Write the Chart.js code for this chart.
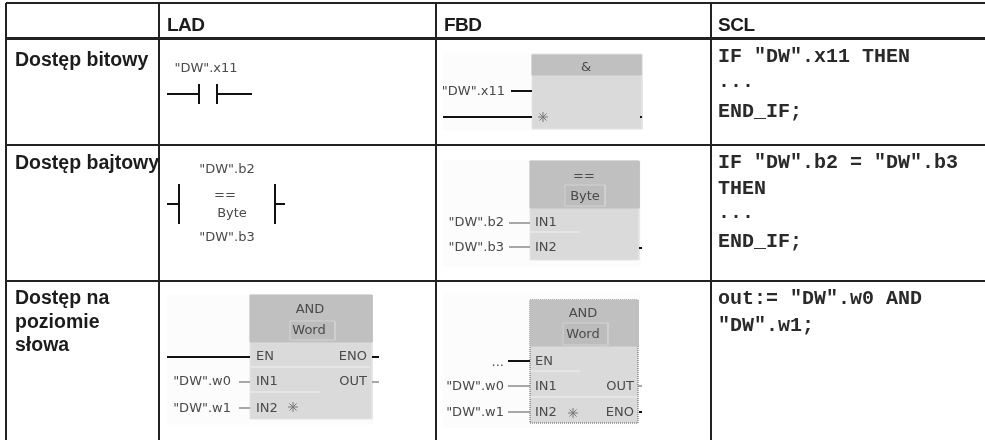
<!DOCTYPE html>
<html>
<head>
<meta charset="utf-8">
<style>html,body{margin:0;padding:0;background:#fff}canvas{display:block}</style>
<script src="https://cdn.jsdelivr.net/npm/chart.js@4/dist/chart.umd.min.js"></script>
</head>
<body>
<canvas id="c" width="985" height="440"></canvas>
<script>
// Table structure
const columnEdges = [6, 159, 436, 711];
const rowEdges = [3, 38.5, 145, 281];
const headerEdge = 38.5;

// Text content
const columnHeaders = ['LAD', 'FBD', 'SCL'];
const rowHeaders = ['Dostęp bitowy', 'Dostęp bajtowy', 'Dostęp na', 'poziomie', 'słowa'];
const sclLines = ['IF "DW".x11 THEN', '...', 'END_IF;', 'IF "DW".b2 = "DW".b3', 'THEN', '...', 'END_IF;', 'out:= "DW".w0 AND', '"DW".w1;'];
const diagramLabels = [
  '"DW".x11',
  '"DW".b2', '==', 'Byte', '"DW".b3',
  'AND', 'Word', 'EN', 'ENO', '"DW".w0', 'IN1', 'OUT', '"DW".w1', 'IN2',
  '&', '"DW".x11',
  '==', 'Byte', '"DW".b2', 'IN1', '"DW".b3', 'IN2',
  'AND', 'Word', '...', 'EN', '"DW".w0', 'IN1', 'OUT', '"DW".w1', 'IN2', 'ENO'
];

// Anchors for the text, in scale units
const columnHeaderAnchors = [[167, 26], [444, 26], [718, 26]];
const rowHeaderAnchors = [[15, 61], [15, 164], [15, 299], [15, 323], [15, 346]];
const sclAnchors = [[718, 57], [718, 82], [718, 112], [718, 163], [718, 189], [718, 213], [718, 242], [718, 299], [718, 326]];
const diagramAnchors = [
  [206, 69, 'center'],
  [227, 170, 'center'], [225, 196, 'center'], [232, 214, 'center'], [227, 238, 'center'],
  [310, 310, 'center'], [309, 331, 'center'], [256, 357, 'left'], [367, 357, 'right'], [231, 382, 'right'], [256, 382, 'left'], [367, 382, 'right'], [231, 409, 'right'], [256, 409, 'left'],
  [586, 68, 'center'], [505, 92, 'right'],
  [584, 177, 'center'], [585, 197, 'center'], [504, 223, 'right'], [535, 223, 'left'], [504, 248, 'right'], [535, 248, 'left'],
  [583, 314, 'center'], [583, 335, 'center'], [504, 363, 'right'], [535, 362, 'left'], [504, 387, 'right'], [535, 387, 'left'], [634, 387, 'right'], [504, 413, 'right'], [535, 413, 'left'], [634, 413, 'right']
];

// Diagram shapes [x0, y0, x1, y1]
const backdrops = [[443, 53, 642, 130], [443, 160, 640, 266], [167, 295, 372, 424], [443, 293, 638, 427]];
const blockBodies = [[532, 54, 642, 129], [530, 161, 639, 260], [250, 295, 372, 419]];
const dottedBodies = [[530, 300, 638, 423]];
const blockHeads = [[532, 55, 641, 75], [530, 161, 639, 208], [250, 295, 372, 342], [530, 300, 638, 346]];
const typeBoxes = [[565, 185, 605, 206], [290, 321, 335, 340], [563, 323, 608, 345]];

// Wires [x0, y0, x1, y1]
const blackWires = [
  [167, 94, 199, 94], [199, 84, 199, 104], [217, 84, 217, 104], [217, 94, 252, 94],
  [167, 204, 179, 204], [179, 184, 179, 224], [275, 184, 275, 224], [275, 204, 285, 204],
  [511, 91, 532, 91], [443, 117, 532, 117], [640, 117, 642, 117], [639, 248, 642, 248],
  [167, 357, 250, 357], [372, 357, 379, 357], [508, 361, 530, 361], [639, 412, 642, 412]
];
const grayWires = [
  [509, 223, 530, 223], [509, 247, 530, 247], [239, 382, 250, 382], [239, 408, 250, 408], [372, 382, 379, 382],
  [508, 386, 530, 386], [508, 412, 530, 412], [638, 386, 642, 386]
];
const whiteRules = [[530, 232, 580, 232], [250, 367, 370, 367], [250, 392, 320, 392], [530, 371, 580, 371], [530, 397, 638, 397]];
const sparkMarks = [{x: 543, y: 117}, {x: 293, y: 407}, {x: 573, y: 413}];

const rectPath = r => [{x:r[0],y:r[1]},{x:r[2],y:r[1]},{x:r[2],y:r[3]},{x:r[0],y:r[3]},{x:r[0],y:r[1]}];
const rectSet = (r, fill, stroke, extra) => Object.assign({type:'scatter', showLine:true, data:rectPath(r), fill:'shape', backgroundColor:fill, borderColor:stroke, borderWidth:1, pointRadius:0, tension:0}, extra||{});
const lineSet = (w, color, width) => ({type:'scatter', showLine:true, data:[{x:w[0],y:w[1]},{x:w[2],y:w[3]}], borderColor:color, borderWidth:width, pointRadius:0, fill:false});

// painter order: first entry ends up at the back
const painted = [
  ...backdrops.map(r => rectSet(r, '#fcfcfc', '#fcfcfc')),
  ...blockBodies.map(r => rectSet(r, '#dadada', '#e4e4e4')),
  ...dottedBodies.map(r => rectSet(r, '#dadada', '#555', {borderDash:[1,1]})),
  ...blockHeads.map(r => rectSet(r, '#c0c0c0', '#c0c0c0')),
  ...typeBoxes.map(r => rectSet(r, '#bcbcbc', '#d2d2d2', {borderWidth:1})),
  ...whiteRules.map(w => lineSet(w, '#f0f0f0', 1)),
  ...grayWires.map(w => lineSet(w, '#8c8c8c', 1.5)),
  ...blackWires.map(w => lineSet(w, '#111', 2)),
  {type:'scatter', data:sparkMarks, pointStyle:'star', pointRadius:5, borderColor:'#777', borderWidth:1, backgroundColor:'#777'}
];

const drawGroup = (chart, strings, anchors, font, color, spacing) => {
  const {ctx, scales:{x, y}} = chart;
  ctx.save();
  ctx.font = font;
  ctx.fillStyle = color;
  ctx.textBaseline = 'middle';
  ctx.letterSpacing = spacing || '0px';
  strings.forEach((s, i) => {
    const a = anchors[i];
    ctx.textAlign = a[2] || 'left';
    ctx.fillText(s, x.getPixelForValue(a[0]), y.getPixelForValue(a[1]));
  });
  ctx.restore();
};

const tableText = {
  id: 'tableText',
  afterDatasetsDraw(chart) {
    drawGroup(chart, columnHeaders, columnHeaderAnchors, 'bold 19px "Liberation Sans"', '#1c1c1c', '-0.5px');
    drawGroup(chart, rowHeaders, rowHeaderAnchors, 'bold 19.5px "Liberation Sans"', '#1c1c1c');
    drawGroup(chart, sclLines, sclAnchors, 'bold 20px "Liberation Mono"', '#2a2a2a');
    drawGroup(chart, diagramLabels, diagramAnchors, '13px "DejaVu Sans"', '#4a4a4a');
  }
};

new Chart(document.getElementById('c'), {
  type: 'scatter',
  data: {datasets: painted.slice().reverse()},
  options: {
    responsive: false,
    animation: false,
    events: [],
    layout: {autoPadding: false, padding: {left: 6, top: 3, right: 0, bottom: 0}},
    plugins: {legend: {display: false}, tooltip: {enabled: false}},
    scales: {
      x: {
        type: 'linear', min: 6, max: 985,
        afterBuildTicks: s => { s.ticks = columnEdges.map(value => ({value})); },
        ticks: {display: false, autoSkip: false},
        grid: {color: '#222', lineWidth: 2, drawTicks: false},
        border: {display: false}
      },
      y: {
        type: 'linear', min: 3, max: 440, reverse: true,
        afterBuildTicks: s => { s.ticks = rowEdges.map(value => ({value})); },
        ticks: {display: false, autoSkip: false},
        grid: {color: '#222', lineWidth: c => c.tick && c.tick.value === headerEdge ? 3 : 2, drawTicks: false},
        border: {display: false}
      }
    }
  },
  plugins: [tableText]
});
</script>
</body>
</html>
